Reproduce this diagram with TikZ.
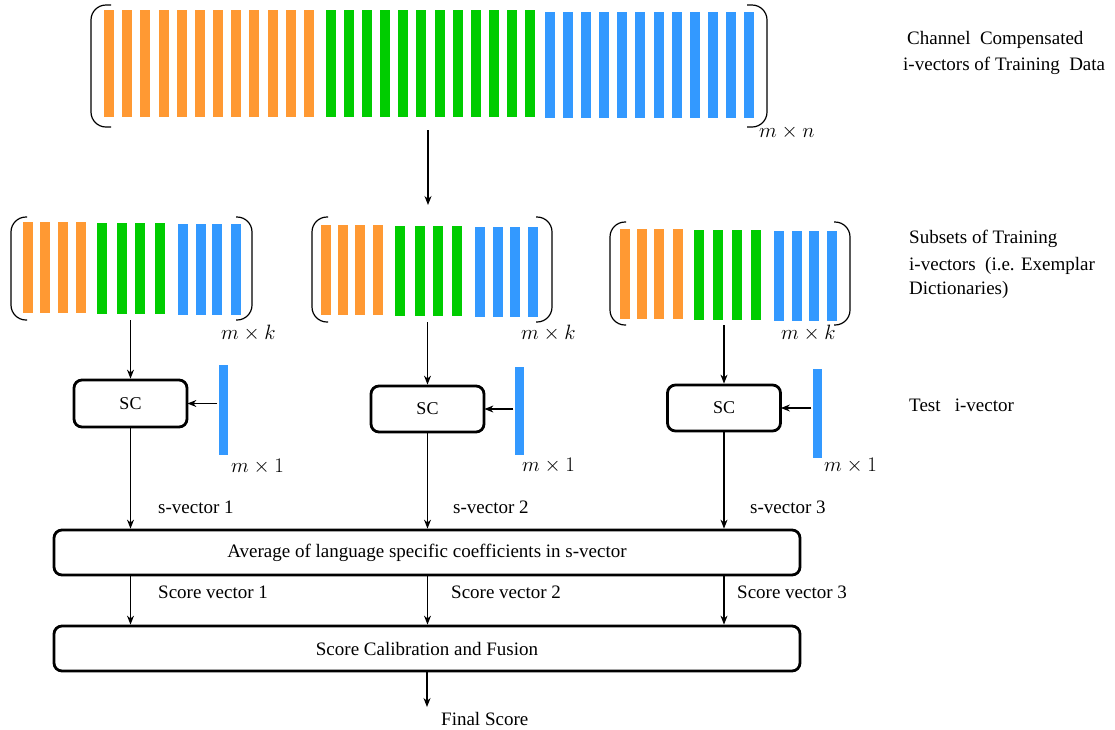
\documentclass[tikz,border=0pt]{standalone}
\usepackage{fontspec}
\setmainfont{Liberation Serif}
\usetikzlibrary{arrows.meta}
\definecolor{ivorange}{HTML}{FF9933}
\definecolor{ivgreen}{HTML}{00CC00}
\definecolor{ivblue}{HTML}{3399FF}

\begin{document}
\begin{tikzpicture}[x=1pt,y=-1pt,
  lbl/.style={font=\fontsize{19}{22}\selectfont, inner sep=0pt, anchor=west},
  dimlbl/.style={font=\fontsize{20}{22}\selectfont, inner sep=0pt, anchor=west},
  procbox/.style={draw, line width=2.8pt, rounded corners=8pt, inner sep=0pt,
                  font=\fontsize{19}{22}\selectfont},
  scbox/.style={procbox, minimum width=113pt, minimum height=46pt,
                font=\fontsize{18}{20}\selectfont},
  widebox/.style={procbox, minimum width=746pt, minimum height=45pt},
  arr/.style={-{Stealth[length=9pt,width=7pt]}, line width=1.1pt},
  brk/.style={line width=1.2pt, rounded corners=15pt},
  region/.style={inner sep=0pt, outer sep=0pt},
  testvec/.style={fill=ivblue, inner sep=0pt, minimum width=9pt, minimum height=90pt},
]
\useasboundingbox (0,0) rectangle (1115,729);

% ---------- full training matrix ----------
\node[region, minimum width=676pt, minimum height=122pt] (big) at (429,66) {};
\foreach \i in {0,...,11} {
  \fill[ivorange] (104+18.18*\i,10) rectangle ++(10,107);
  \fill[ivgreen]  (326+18.09*\i,10) rectangle ++(10,107);
  \fill[ivblue]   (545+18.09*\i,12) rectangle ++(10,106);
}
\draw[brk] ([xshift=20pt]big.north west) -- (big.north west) -- (big.south west) -- ++(20,0);
\draw[brk] ([xshift=-20pt]big.north east) -- (big.north east) -- (big.south east) -- ++(-20,0);
\node[dimlbl] (mn) at (759,132) {$m\times n$};

% ---------- subsets (exemplar dictionaries) ----------
\node[region, minimum width=241pt, minimum height=103pt] (sub1) at (131.5,268.5) {};
\node[region, minimum width=240pt, minimum height=105pt] (sub2) at (432,269.5) {};
\node[region, minimum width=240pt, minimum height=103pt] (sub3) at (730,273.5) {};

\foreach \x in {23,40,58,76}    {\fill[ivorange] (\x,222) rectangle ++(10,91);}
\foreach \x in {97,117,135,155} {\fill[ivgreen]  (\x,223) rectangle ++(10,91);}
\foreach \x in {178,196,212,231}{\fill[ivblue]   (\x,224) rectangle ++(10,91);}

\foreach \x in {321,338,355,373}{\fill[ivorange] (\x,225) rectangle ++(10,90);}
\foreach \x in {395,415,433,452}{\fill[ivgreen]  (\x,226) rectangle ++(10,90);}
\foreach \x in {475,493,510,528}{\fill[ivblue]   (\x,227) rectangle ++(10,90);}

\foreach \x in {620,637,654,673}{\fill[ivorange] (\x,229) rectangle ++(10,90);}
\foreach \x in {694,713,732,751}{\fill[ivgreen]  (\x,230) rectangle ++(10,90);}
\foreach \x in {774,792,809,827}{\fill[ivblue]   (\x,231) rectangle ++(10,90);}

\foreach \s in {sub1,sub2,sub3} {
  \draw[brk] ([xshift=16pt]\s.north west) -- (\s.north west) -- (\s.south west) -- ++(16,0);
  \draw[brk] ([xshift=-16pt]\s.north east) -- (\s.north east) -- (\s.south east) -- ++(-16,0);
}
\node[dimlbl] (mk1) at (221,333) {$m\times k$};
\node[dimlbl] (mk2) at (521,333) {$m\times k$};
\node[dimlbl] (mk3) at (781,333) {$m\times k$};

% ---------- sparse coding blocks ----------
\node[scbox, minimum height=47pt] (sc1) at (130.5,403.5) {SC};
\node[scbox] (sc2) at (427.5,409) {SC};
\node[scbox] (sc3) at (724,408) {SC};

\node[testvec] (t1) at (223.5,410) {};
\node[testvec, minimum height=88pt] (t2) at (519.5,411) {};
\node[testvec, minimum height=89pt] (t3) at (817.5,413.5) {};
\node[dimlbl] (m11) at (231,467) {$m\times 1$};
\node[dimlbl] (m12) at (522,466) {$m\times 1$};
\node[dimlbl] (m13) at (824,466) {$m\times 1$};

% ---------- averaging and fusion ----------
\node[widebox] (avg) at (427,552.5) {Average of language specific coefficients in s-vector};
\node[widebox] (fus) at (427,648.5) {Score Calibration and Fusion};
\coordinate (split) at (428,205);
\coordinate (final) at (427,707);

% ---------- connectors ----------
\draw[arr, shorten <=3pt] (big.south -| split) -- (split);
\foreach \s/\c in {sub1/sc1, sub2/sc2, sub3/sc3} {
  \draw[arr] (\c.north |- \s.south) -- (\c.north);
}
\foreach \t/\c in {t1/sc1, t2/sc2, t3/sc3} {
  \draw[arr, shorten <=1.5pt, shorten >=-1pt] (\t.west |- \c.east) -- (\c.east);
}
\foreach \c in {sc1,sc2,sc3} {
  \draw[arr] (\c.south) -- (\c.south |- avg.north);
  \draw[arr] (\c.south |- avg.south) -- (\c.south |- fus.north);
}
\draw[arr] (fus.south -| final) -- (final);

% ---------- labels ----------
\node[lbl] at (158,507) {s-vector 1};
\node[lbl] at (453,507) {s-vector 2};
\node[lbl] at (750,507) {s-vector 3};
\node[lbl] at (158,592) {Score vector 1};
\node[lbl] at (451,592) {Score vector 2};
\node[lbl] at (737,592) {Score vector 3};
\node[lbl] at (441,719) {Final Score};

\node[lbl] at (907,40) {Channel\ \ Compensated};
\node[lbl] at (903,66) {i-vectors of Training\ \ Data};
\node[lbl] at (909,239) {Subsets of Training};
\node[lbl] at (909,266) {i-vectors\ \ (i.e. Exemplar};
\node[lbl] at (909,290) {Dictionaries)};
\node[lbl] at (909,405) {Test\ \ \ i-vector};
\end{tikzpicture}
\end{document}
